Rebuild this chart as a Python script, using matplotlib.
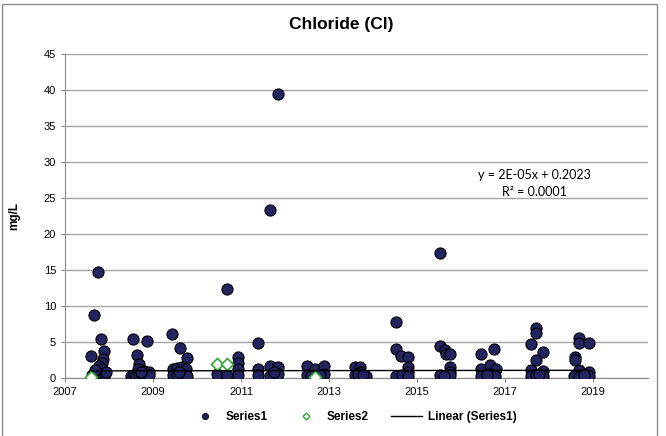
import matplotlib.pyplot as plt
import matplotlib.patches as mpatches
from matplotlib.lines import Line2D
import numpy as np

plt.rcParams['font.family'] = ['Liberation Sans', 'DejaVu Sans']

# Series1 sample dates (decimal years) and chloride values (mg/L)
s1_year = [2007.60, 2007.66, 2007.75, 2007.82, 2007.89, 2007.87, 2007.83, 2007.78, 2007.85, 2007.70,
           2007.62, 2007.66, 2007.70, 2007.74, 2007.78, 2007.82, 2007.86, 2007.90, 2007.93, 2007.68,
           2008.54, 2008.86, 2008.64, 2008.69, 2008.66, 2008.80, 2008.92,
           2008.50, 2008.56, 2008.62, 2008.68, 2008.74, 2008.80, 2008.86, 2008.92, 2008.72,
           2009.44, 2009.61, 2009.77, 2009.45, 2009.55, 2009.65, 2009.75,
           2009.45, 2009.55, 2009.65, 2009.77, 2009.60,
           2010.69, 2010.94, 2010.94, 2010.94, 2010.46, 2010.69, 2010.94,
           2011.39, 2011.39, 2011.39, 2011.66, 2011.66, 2011.65, 2011.84, 2011.84, 2011.83, 2011.75,
           2012.49, 2012.49, 2012.69, 2012.89, 2012.89, 2012.60, 2012.80,
           2013.59, 2013.70, 2013.59, 2013.70, 2013.84, 2013.65, 2013.78,
           2014.52, 2014.53, 2014.64, 2014.80, 2014.80, 2014.80, 2014.52, 2014.66, 2014.80,
           2015.52, 2015.52, 2015.64, 2015.65, 2015.75, 2015.75, 2015.75, 2015.52, 2015.75, 2015.62,
           2016.45, 2016.76, 2016.45, 2016.66, 2016.80, 2016.45, 2016.66, 2016.78, 2016.60,
           2017.70, 2017.70, 2017.60, 2017.87, 2017.70, 2017.60, 2017.87, 2017.60, 2017.70, 2017.87, 2017.78,
           2018.69, 2018.69, 2018.91, 2018.59, 2018.59, 2018.69, 2018.91, 2018.57, 2018.69, 2018.91, 2018.80]
s1_value = [3.0, 8.7, 14.7, 5.4, 3.75, 2.6, 2.1, 1.6, 1.2, 1.0,
            0.4, 0.6, 0.3, 0.5, 0.3, 0.5, 0.4, 0.6, 0.9, 1.1,
            5.4, 5.2, 3.15, 2.0, 1.2, 1.0, 0.9,
            0.3, 0.4, 0.3, 0.4, 0.3, 0.4, 0.3, 0.4, 0.8,
            6.1, 4.2, 2.8, 1.3, 1.4, 1.5, 1.3,
            0.4, 0.6, 0.5, 0.3, 0.9,
            12.3, 2.9, 2.1, 1.3, 0.6, 0.35, 0.45,
            4.9, 1.3, 0.4, 1.7, 0.3, 23.3, 1.5, 0.5, 39.5, 0.8,
            1.7, 0.45, 1.2, 1.6, 0.5, 0.3, 0.4,
            1.5, 1.5, 0.4, 0.8, 0.3, 0.5, 0.4,
            7.8, 4.0, 3.0, 2.9, 1.5, 0.9, 0.3, 0.4, 0.3,
            17.4, 4.4, 3.9, 3.3, 3.3, 1.5, 0.8, 0.4, 0.4, 0.3,
            3.4, 4.0, 1.3, 1.8, 1.3, 0.3, 0.5, 0.3, 0.4,
            6.9, 6.2, 4.7, 3.6, 2.5, 1.1, 1.0, 0.3, 0.4, 0.3, 0.5,
            5.5, 4.8, 4.8, 2.95, 2.5, 1.1, 0.9, 0.3, 0.2, 0.3, 0.4]

# Series2
s2_year = [2007.59, 2010.46, 2010.69, 2012.69]
s2_value = [0.18, 2.0, 2.0, 0.2]

# Excel linear trend of Series1 (x in Excel day serials)
trend_slope = 2e-05
trend_intercept = 0.2023

x_ticks = [2007, 2009, 2011, 2013, 2015, 2017, 2019]
y_ticks = [0, 5, 10, 15, 20, 25, 30, 35, 40, 45]

fig = plt.figure(figsize=(6.66, 4.36), dpi=100)
ax = fig.add_axes([65 / 666, 1 - 378 / 436, (648 - 65) / 666, (378 - 54) / 436])

# chart frame
fig.patches.append(mpatches.Rectangle((2 / 666, -0.05), 655 / 666, 1.05 - 4 / 436,
                                      transform=fig.transFigure, fill=False,
                                      edgecolor='#8c8c8c', linewidth=1.0))

ax.scatter(s1_year, s1_value, s=64, marker='o', facecolor='#23235f',
           edgecolor='black', linewidth=0.8, zorder=3)
ax.scatter(s2_year, s2_value, s=38, marker='D', facecolor='white',
           edgecolor='#2fa836', linewidth=1.2, zorder=4)

# trend line over the Series1 date range
tx = np.array([min(s1_year), max(s1_year)])
serial = (tx - 1900) * 365.25 + 1
ax.plot(tx, trend_slope * serial + trend_intercept, color='black', linewidth=1.0, zorder=5)

ax.set_xlim(2007, 2020.25)
ax.set_ylim(0, 45)
ax.set_xticks(x_ticks)
ax.set_yticks(y_ticks)
ax.tick_params(labelsize=8, length=3, color='#8c8c8c', width=0.8)
ax.grid(axis='y', color='#a6a6a6', linewidth=1.0)
ax.set_axisbelow(True)
for sp in ['top', 'right']:
    ax.spines[sp].set_visible(False)
for sp in ['left', 'bottom']:
    ax.spines[sp].set_color('#8c8c8c')

ax.set_ylabel('mg/L', fontsize=8.5, fontweight='bold', labelpad=17)
fig.text(341 / 666, 1 - 25 / 436, 'Chloride (Cl)', ha='center', va='center',
         fontsize=12.5, fontweight='bold')

ax.text(2017.68, 27.0, 'y = 2E-05x + 0.2023\nR\u00b2 = 0.0001', ha='center', va='center',
        fontsize=9, family=['Lato', 'DejaVu Sans'], linespacing=1.55)

handles = [Line2D([], [], marker='o', linestyle='none', markersize=4.5,
                  markerfacecolor='#23235f', markeredgecolor='black', markeredgewidth=0.6),
           Line2D([], [], marker='D', linestyle='none', markersize=3.5,
                  markerfacecolor='white', markeredgecolor='#2fa836', markeredgewidth=1.0),
           Line2D([], [], color='black', linewidth=1.0)]
fig.legend(handles, ['Series1', 'Series2', 'Linear (Series1)'], loc='center',
           bbox_to_anchor=(353 / 666, 1 - 417 / 436), ncol=3, frameon=False,
           prop={'size': 8.5, 'weight': 'bold'}, handlelength=2.6, columnspacing=1.9,
           handletextpad=0.5)

fig.savefig('out.png', dpi=100)
